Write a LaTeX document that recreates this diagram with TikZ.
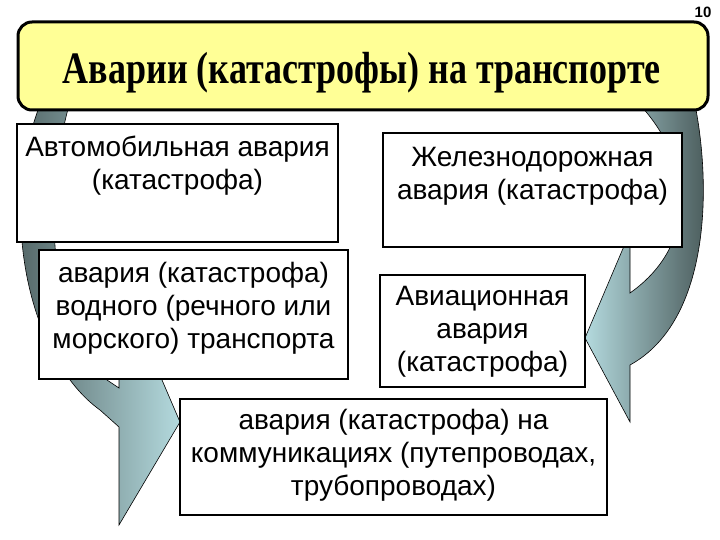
\documentclass[tikz,border=0pt]{standalone}
\usepackage{fontspec}
\usepackage{graphicx}
\setmainfont{Liberation Sans}
\newfontfamily\titlefont{Liberation Serif}
\usetikzlibrary{positioning}
\definecolor{titleyellow}{RGB}{255,255,150}
\definecolor{titlepale}{RGB}{255,255,228}
\definecolor{arrowdark}{RGB}{70,86,86}
\definecolor{arrowlight}{RGB}{180,218,222}

\begin{document}
\begin{tikzpicture}
	[x=1pt,y=-1pt,
	 titlebox/.style={draw,rounded corners=14pt,line width=3pt,minimum width=690pt,minimum height=88pt,left color=titleyellow,middle color=titlepale,right color=titleyellow},
	 box/.style={draw,rectangle,line width=1.8pt,fill=white,inner sep=0pt},
	 boxtext/.style={align=center,inner sep=0pt,font=\fontsize{28}{33}\selectfont},
	 band/.style={draw=black,line width=0.6pt}]

	\useasboundingbox (0,0) rectangle (720,540);

	% curved arrows (drawn first, the boxes lie over them)
	\path[band,left color=arrowdark,right color=arrowlight]
		(44,95) .. controls (-6,210) and (30,360) .. (100,410) -- (119,427) -- (119,525)
		-- (180,422) -- (162,380) -- (119,280) -- (119,388) -- (107,380)
		.. controls (50,330) and (40,200) .. (72,95) -- cycle;
	\path[band,left color=arrowlight,right color=arrowdark]
		(693,95) .. controls (712,180) and (712,320) .. (630,365) -- (630,422)
		-- (585,338) -- (630,232) -- (630,293)
		.. controls (705,240) and (690,150) .. (630,95) -- cycle;

	\node[titlebox] (title) at (363,66) {};
	\node[anchor=base,inner sep=0pt] (titletext) at (362,84)
		{\titlefont\bfseries\fontsize{45}{50}\selectfont\scalebox{0.8}[1]{Аварии (катастрофы) на транспорте}};
	\node[font=\bfseries\fontsize{15}{15}\selectfont,inner sep=0pt] (pagenum) at (703,12) {10};

	\node[box,minimum width=321pt,minimum height=118pt] (auto) at (177.5,183) {};
	\node[boxtext,below=13pt of auto.north] (autotext) {Автомобильная авария\\(катастрофа)};

	\node[box,minimum width=299pt,minimum height=114pt] (rail) at (532.5,190) {};
	\node[boxtext,below=15pt of rail.north] (railtext) {Железнодорожная\\авария (катастрофа)};

	\node[box,minimum width=309pt,minimum height=129pt] (water) at (193.5,314.5) {};
	\node[boxtext,below=13pt of water.north] (watertext) {авария (катастрофа)\\водного (речного или\\морского) транспорта};

	\node[box,minimum width=205pt,minimum height=112pt] (air) at (482.5,331) {};
	\node[boxtext,below=12pt of air.north] (airtext) {Авиационная\\авария\\(катастрофа)};

	\node[box,minimum width=427pt,minimum height=116pt] (comm) at (393.5,457) {};
	\node[boxtext,below=11pt of comm.north] (commtext) {авария (катастрофа) на\\коммуникациях (путепроводах,\\трубопроводах)};

\end{tikzpicture}
\end{document}
